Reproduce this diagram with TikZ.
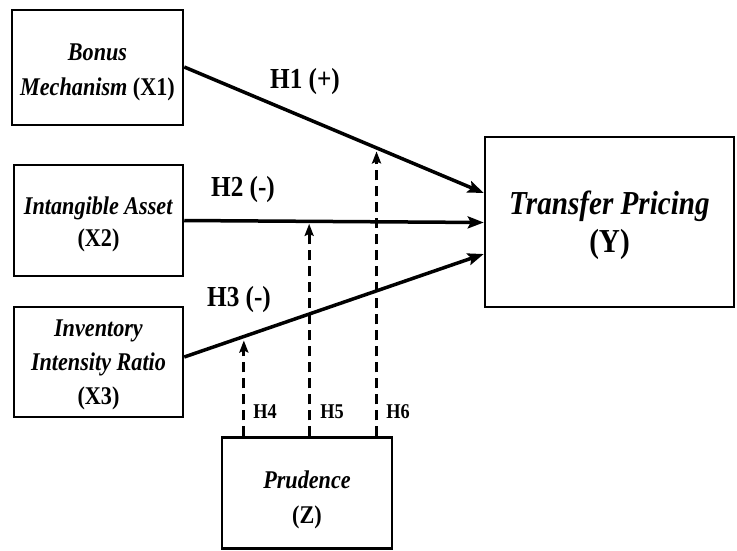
\documentclass[tikz,border=0pt]{standalone}
\usepackage{fontspec}
\setmainfont[FakeStretch=0.87]{Liberation Serif}
\usetikzlibrary{arrows.meta,calc}
\begin{document}
\begin{tikzpicture}[x=1pt,y=-1pt,
  box/.style={draw,line width=2.5pt,inner sep=0pt},
  txt/.style={inner sep=0pt,align=center,font=\bfseries\fontsize{25.5}{35}\selectfont},
  rel/.style={line width=3.5pt,-{Stealth[length=16pt,width=12pt,inset=3pt]}},
  mod/.style={line width=3pt,dash pattern=on 10pt off 6pt,-{Stealth[length=12pt,width=9pt,inset=2pt]}},
  hlab/.style={font=\bfseries\fontsize{29}{30}\selectfont},
  slab/.style={font=\bfseries\fontsize{21}{22}\selectfont}]
\useasboundingbox (0,0) rectangle (737,550);
\node[box,minimum width=171pt,minimum height=115pt] (x1) at (97.5,67.5) {};
\node[box,minimum width=169pt,minimum height=111pt] (x2) at (98.5,220.5) {};
\node[box,minimum width=169pt,minimum height=110pt] (x3) at (98.5,362) {};
\node[box,minimum width=249pt,minimum height=170pt] (y) at (609.5,222) {};
\node[box,minimum width=170pt,minimum height=111pt] (z) at (307,493) {};
\node[txt] (x1t) at ($(x1)+(0,4.5)$) {\textit{Bonus}\\\textit{Mechanism} (X1)};
\node[txt,font=\bfseries\fontsize{25.5}{32}\selectfont] (x2t) at ($(x2)+(0,4)$) {\textit{Intangible Asset}\\(X2)};
\node[txt,font=\bfseries\fontsize{25.5}{34}\selectfont] (x3t) at ($(x3)+(0,2.5)$) {\textit{Inventory}\\\textit{Intensity Ratio}\\(X3)};
\node[txt,font=\bfseries\fontsize{33.5}{38}\selectfont] (yt) at ($(y)+(0,3)$) {\textit{Transfer Pricing}\\(Y)};
\node[txt] (zt) at ($(z)+(0,7)$) {\textit{Prudence}\\(Z)};
\draw[rel] ($(x1.east)+(0,-0.5)$) -- coordinate[pos=0.642] (p6) ($(y.west)+(0,-29)$);
\draw[rel] (x2.east) -- coordinate[pos=0.417] (p5) ($(y.west)+(0,0.5)$);
\draw[rel] ($(x3.east)+(0,-5)$) -- coordinate[pos=0.199] (p4) ($(y.west)+(0,32)$);
\draw[mod] (z.north -| p4) -- ($(p4)+(0,4)$);
\draw[mod] (z.north -| p5) -- ($(p5)+(0,2.5)$);
\draw[mod] (z.north -| p6) -- ($(p6)+(0,3.5)$);
\node[hlab] (l1) at (305,82) {H1 (+)};
\node[hlab] (l2) at (243,190) {H2 (-)};
\node[hlab] (l3) at (239,300) {H3 (-)};
\node[slab] (l4) at (265,412) {H4};
\node[slab] (l5) at (332,412) {H5};
\node[slab] (l6) at (398,412) {H6};
\end{tikzpicture}
\end{document}
